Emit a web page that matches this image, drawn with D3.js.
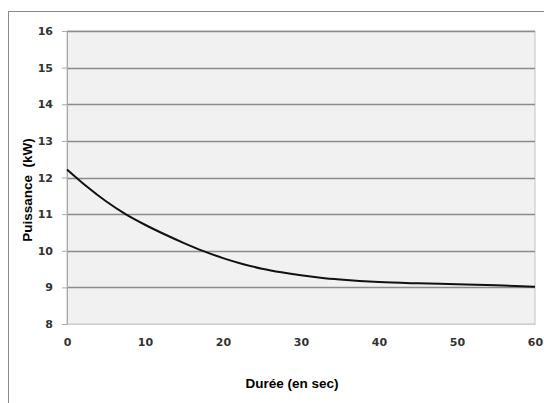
<!DOCTYPE html>
<html>
<head>
<meta charset="utf-8">
<script src="https://cdn.jsdelivr.net/npm/d3@7"></script>
<style>
  body { margin: 0; background: #fff; }
  svg { display: block; }
</style>
</head>
<body>
<div id="chart"></div>
<script>
// Durée (sec) / Puissance (kW)
const durees = [0, 2.5, 5, 7.5, 10, 12.5, 15, 17.5, 20, 22.5, 25, 27.5, 30, 32.5, 35, 37.5, 40, 45, 50, 55, 60];
const puissances = [12.22, 11.76, 11.35, 11.0, 10.71, 10.45, 10.21, 9.99, 9.8, 9.64, 9.51, 9.41, 9.33, 9.265, 9.215, 9.175, 9.145, 9.11, 9.085, 9.055, 9.02];
const xTicks = [0, 10, 20, 30, 40, 50, 60];
const yTicks = [8, 9, 10, 11, 12, 13, 14, 15, 16];

const width = 544, height = 403;
const plot = { left: 67, top: 31, right: 535, bottom: 324 };

const svg = d3.select("#chart").append("svg")
  .attr("width", width)
  .attr("height", height);

// chart frame
svg.append("rect")
  .attr("x", 8.5).attr("y", 11.5)
  .attr("width", 560).attr("height", 420)
  .attr("fill", "#fff")
  .attr("stroke", "#8a8a8a");

const x = d3.scaleLinear().domain([0, 60]).range([plot.left, plot.right]);
const y = d3.scaleLinear().domain([8, 16]).range([plot.bottom, plot.top]);

// plot area
svg.append("rect")
  .attr("x", plot.left).attr("y", plot.top)
  .attr("width", plot.right - plot.left)
  .attr("height", plot.bottom - plot.top)
  .attr("fill", "#f1f1f1")
  .attr("stroke", "#c4c4c4");

// horizontal gridlines
svg.append("g")
  .selectAll("line")
  .data(yTicks.slice(1))
  .join("line")
  .attr("x1", plot.left).attr("x2", plot.right)
  .attr("y1", d => Math.round(y(d)) + 0.5)
  .attr("y2", d => Math.round(y(d)) + 0.5)
  .attr("stroke", "#8c8c8c")
  .attr("stroke-width", 1.4);

// y axis
const yAxis = svg.append("g")
  .attr("transform", `translate(${plot.left},0)`)
  .call(d3.axisLeft(y).tickValues(yTicks).tickSize(5).tickPadding(9));
yAxis.select(".domain").attr("stroke", "#a8a8a8");
yAxis.selectAll(".tick line").attr("stroke", "#a8a8a8");
yAxis.selectAll("text")
  .attr("fill", "#333")
  .style("font", "bold 11px Verdana, 'DejaVu Sans', sans-serif");

// x axis
const xAxis = svg.append("g")
  .attr("transform", `translate(0,${plot.bottom})`)
  .call(d3.axisBottom(x).tickValues(xTicks).tickSize(0).tickPadding(14));
xAxis.select(".domain").attr("stroke", "#d0d0d0");
xAxis.selectAll("text")
  .attr("fill", "#333")
  .style("font", "bold 11px Verdana, 'DejaVu Sans', sans-serif");

// axis titles
svg.append("text")
  .attr("transform", "translate(32,190) rotate(-90)")
  .attr("text-anchor", "middle")
  .style("font", "bold 13.5px Arial, 'Liberation Sans', sans-serif")
  .attr("fill", "#000")
  .attr("xml:space", "preserve")
  .text("Puissance  (kW)");

svg.append("text")
  .attr("x", 292).attr("y", 388)
  .attr("text-anchor", "middle")
  .style("font", "bold 13.5px Arial, 'Liberation Sans', sans-serif")
  .attr("fill", "#000")
  .text("Durée (en sec)");

// curve
const data = durees.map((t, i) => ({ t, p: puissances[i] }));
svg.append("path")
  .datum(data)
  .attr("fill", "none")
  .attr("stroke", "#111")
  .attr("stroke-width", 2)
  .attr("d", d3.line().x(d => x(d.t)).y(d => y(d.p)).curve(d3.curveMonotoneX));
</script>
</body>
</html>
